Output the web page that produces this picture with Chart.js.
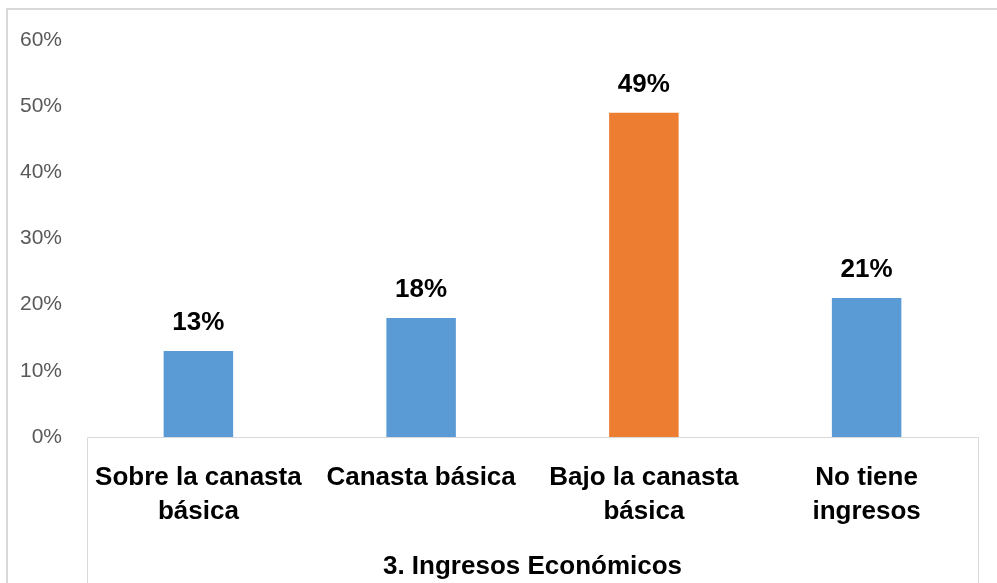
<!DOCTYPE html>
<html>
<head>
<meta charset="utf-8">
<script src="https://cdn.jsdelivr.net/npm/chart.js@4.4.0/dist/chart.umd.min.js"></script>
<style>
  html, body { margin: 0; padding: 0; background: #ffffff; }
  #wrap { position: relative; width: 997px; height: 583px; }
  canvas { display: block; }
</style>
</head>
<body>
<div id="wrap"><canvas id="c" width="997" height="583"></canvas></div>
<script>
// Ingresos económicos: share of respondents by income level
const categories = [
  ["Sobre la canasta", "básica"],
  ["Canasta básica"],
  ["Bajo la canasta", "básica"],
  ["No tiene", "ingresos"]
];
const percentValues = [13, 18, 49, 21];
const barColors = ["#5B9BD5", "#5B9BD5", "#ED7D31", "#5B9BD5"];
const yTicks = [0, 10, 20, 30, 40, 50, 60];
const axisTitle = "3. Ingresos Económicos";

const FONT = "'Liberation Sans', Arial, sans-serif";

// Outer frame lines and the box under the category axis
const framePlugin = {
  id: 'frame',
  beforeDraw(chart) {
    const { ctx, chartArea } = chart;
    ctx.save();
    ctx.strokeStyle = '#d9d9d9';
    ctx.lineWidth = 2;
    ctx.beginPath();
    ctx.moveTo(7, chart.height);
    ctx.lineTo(7, 9);
    ctx.lineTo(chart.width, 9);
    ctx.stroke();
    ctx.lineWidth = 1;
    ctx.strokeStyle = '#d9d9d9';
    ctx.beginPath();
    ctx.moveTo(chartArea.left + 0.5, chart.height);
    ctx.lineTo(chartArea.left + 0.5, chartArea.bottom + 0.5);
    ctx.lineTo(chartArea.right + 0.5, chartArea.bottom + 0.5);
    ctx.lineTo(chartArea.right + 0.5, chart.height);
    ctx.stroke();
    ctx.restore();
  }
};

// Value labels above each bar
const valueLabels = {
  id: 'valueLabels',
  afterDatasetsDraw(chart) {
    const { ctx } = chart;
    const meta = chart.getDatasetMeta(0);
    const data = chart.data.datasets[0].data;
    ctx.save();
    ctx.fillStyle = '#000000';
    ctx.font = "bold 26px " + FONT;
    ctx.textAlign = 'center';
    ctx.textBaseline = 'alphabetic';
    meta.data.forEach((bar, i) => {
      ctx.fillText(data[i] + '%', bar.x, bar.y - 21);
    });
    ctx.restore();
  }
};

new Chart(document.getElementById('c'), {
  type: 'bar',
  data: {
    labels: categories,
    datasets: [{
      data: percentValues,
      backgroundColor: barColors,
      borderWidth: 0,
      barPercentage: 0.52,
      categoryPercentage: 0.6
    }]
  },
  options: {
    responsive: false,
    animation: false,
    layout: { padding: { left: 0, right: 19, top: 40, bottom: 0 } },
    plugins: {
      legend: { display: false },
      tooltip: { enabled: false }
    },
    scales: {
      x: {
        grid: { display: false, drawTicks: false },
        border: { display: false },
        ticks: {
          color: '#000000',
          padding: 24,
          font: { family: FONT, size: 26, weight: 'bold', lineHeight: 1.31 }
        },
        title: {
          display: true,
          text: axisTitle,
          color: '#000000',
          padding: { top: 0, bottom: 1 },
          font: { family: FONT, size: 26, weight: 'bold', lineHeight: 1.2 }
        },
        afterFit(scale) { scale.height = 146; }
      },
      y: {
        min: 0,
        max: 60,
        grid: { display: false, drawTicks: false },
        border: { display: false },
        afterBuildTicks(scale) {
          scale.ticks = yTicks.map(v => ({ value: v }));
        },
        ticks: {
          color: '#595959',
          padding: 25,
          font: { family: FONT, size: 21 },
          callback: v => v + '%'
        },
        afterFit(scale) { scale.width = 87; }
      }
    }
  },
  plugins: [framePlugin, valueLabels]
});
</script>
</body>
</html>
